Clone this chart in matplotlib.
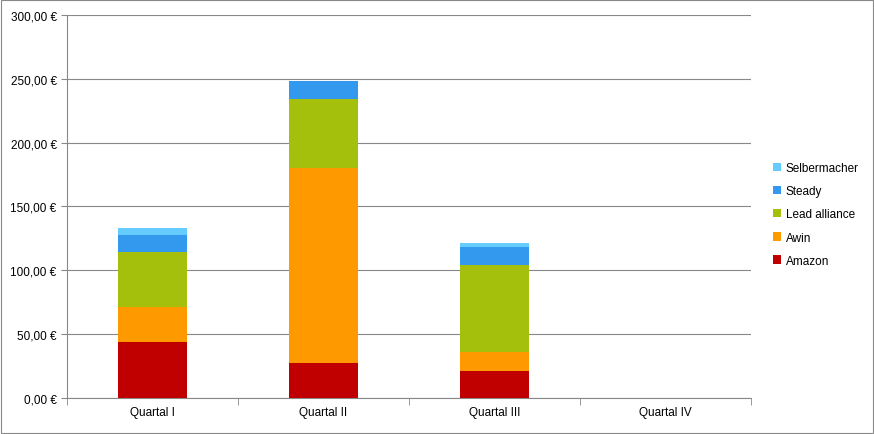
import matplotlib
matplotlib.use("Agg")
import matplotlib.pyplot as plt
import numpy as np

categories = ["Quartal I", "Quartal II", "Quartal III", "Quartal IV"]
series_names = ["Amazon", "Awin", "Lead alliance", "Steady", "Selbermacher"]
amazon = [44, 27.5, 21, 0]
awin = [27, 153, 15, 0]
lead = [43, 54, 68, 0]
steady = [14, 14, 14, 0]
selber = [5, 0, 3, 0]
colors = ["#C00000", "#FF9900", "#A5BF0D", "#3399EE", "#66CCFF"]
yticks = [0, 50, 100, 150, 200, 250, 300]

plt.rcParams["font.family"] = "Liberation Sans"
fig = plt.figure(figsize=(8.74, 4.35), dpi=100)
ax = fig.add_axes([0.0767, 0.0828, 0.7823, 0.8805])
x = np.arange(len(categories))
bottom = np.zeros(len(categories))
handles = []
for name, vals, c in zip(series_names, [amazon, awin, lead, steady, selber], colors):
    h = ax.bar(x, vals, 0.4, bottom=bottom, color=c, label=name, zorder=3)
    handles.append(h)
    bottom += np.array(vals)
ax.set_xlim(-0.5, 3.5)
ax.set_ylim(0, 300)
ax.set_yticks(yticks)
ax.set_yticklabels([f"{v:.2f}".replace(".", ",") + " €" for v in yticks], fontsize=8.5)
ax.set_xticks(x)
ax.set_xticklabels(categories, fontsize=8.5)
ax.set_xticks(np.arange(-0.5, 4, 1), minor=True)
ax.tick_params(axis="x", which="major", length=0, pad=6)
ax.tick_params(axis="x", which="minor", length=5, color="#888888")
ax.tick_params(axis="y", length=4, color="#888888")
ax.grid(axis="y", color="#888888", linewidth=0.8, zorder=0)
for s in ["top", "right"]:
    ax.spines[s].set_visible(False)
for s in ["left", "bottom"]:
    ax.spines[s].set_color("#888888")
leg = fig.legend(handles[::-1], series_names[::-1], loc="center left",
                 bbox_to_anchor=(0.872, 0.505), frameon=False, fontsize=8.5,
                 handlelength=0.7, handleheight=0.7, labelspacing=0.95, handletextpad=0.4)
fig.patches.append(plt.Rectangle((0.001, 0.002), 0.998, 0.996, transform=fig.transFigure,
                                 fill=False, edgecolor="#888888", linewidth=0.8))
fig.savefig("out.png", dpi=100)
